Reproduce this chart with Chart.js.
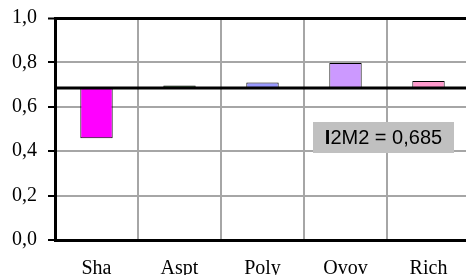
<!DOCTYPE html>
<html>
<head>
<meta charset="utf-8">
<script src="https://cdn.jsdelivr.net/npm/chart.js@4"></script>
<style>
html,body{margin:0;padding:0;background:#fff;overflow:hidden;}
#wrap{width:470px;height:275px;}
</style>
</head>
<body>
<div id="wrap"><canvas id="c" width="470" height="275"></canvas></div>
<script>
const categories = ['Sha', 'Aspt', 'Poly', 'Ovov', 'Rich'];
const baseline = 0.685;
const values = [0.458, 0.696, 0.710, 0.797, 0.716];
const barColors = ['#FF00FF', '#1F5F1F', '#9999FF', '#CC99FF', '#FF99CC'];
const yTicks = [0, 0.2, 0.4, 0.6, 0.8, 1.0];
const annotationText = 'I2M2 = 0,685';

const floating = values.map(v => [baseline, v]);

const baselinePlugin = {
  id: 'baselinePlugin',
  afterDatasetsDraw(chart) {
    const ctx = chart.ctx, a = chart.chartArea, y = chart.scales.y.getPixelForValue(baseline);
    ctx.save();
    ctx.strokeStyle = '#000';
    ctx.lineWidth = 3;
    ctx.beginPath();
    ctx.moveTo(a.left, y);
    ctx.lineTo(a.right, y);
    ctx.stroke();
    // annotation box
    const bx = a.left + 258, by = a.top + 104, bw = 141, bh = 31;
    ctx.fillStyle = '#C0C0C0';
    ctx.fillRect(bx, by, bw, bh);
    ctx.fillStyle = '#000';
    ctx.textBaseline = 'middle';
    ctx.textAlign = 'left';
    ctx.font = 'bold 20px "Liberation Sans", Arial, sans-serif';
    const first = annotationText.charAt(0);
    const rest = annotationText.slice(1);
    const w1 = ctx.measureText(first).width;
    ctx.font = '20px "Liberation Sans", Arial, sans-serif';
    const w2 = ctx.measureText(rest).width;
    const tx = bx + (bw - w1 - w2) / 2;
    ctx.font = 'bold 20px "Liberation Sans", Arial, sans-serif';
    ctx.fillText(first, tx, by + bh / 2 + 1);
    ctx.font = '20px "Liberation Sans", Arial, sans-serif';
    ctx.fillText(rest, tx + w1, by + bh / 2 + 1);
    ctx.restore();
  }
};

new Chart(document.getElementById('c'), {
  type: 'bar',
  data: {
    labels: categories,
    datasets: [{
      data: floating,
      backgroundColor: barColors,
      borderColor: '#000',
      borderWidth: 1,
      borderSkipped: false,
      barPercentage: 0.39,
      categoryPercentage: 1.0
    }]
  },
  options: {
    responsive: false,
    animation: false,
    devicePixelRatio: 1,
    layout: { padding: { top: 18, right: 0, left: 0, bottom: 0 } },
    plugins: { legend: { display: false }, tooltip: { enabled: false } },
    scales: {
      x: {
        afterFit(s) { s.height = 35; s.paddingLeft = 0; s.paddingRight = 0; },
        grid: { color: '#A6A6A6', lineWidth: 2, offset: true, drawTicks: false },
        border: { color: '#000', width: 3 },
        ticks: { color: '#000', padding: 17, font: { family: '"Liberation Serif", "Times New Roman", serif', size: 20 } }
      },
      y: {
        min: 0, max: 1,
        afterFit(s) { s.width = 55; s.paddingTop = 0; s.paddingBottom = 0; },
        afterBuildTicks(s) { s.ticks = yTicks.map(v => ({ value: v })); },
        grid: {
          color: c => (c.tick && c.tick.value === 1) ? '#000' : '#A6A6A6',
          lineWidth: c => (c.tick && c.tick.value === 1) ? 3 : 2,
          tickColor: '#000',
          tickWidth: 2,
          tickLength: 7
        },
        border: { color: '#000', width: 3 },
        ticks: {
          color: '#000',
          padding: 11,
          font: { family: '"Liberation Serif", "Times New Roman", serif', size: 20 },
          callback: v => v.toFixed(1).replace('.', ',')
        }
      }
    }
  },
  plugins: [baselinePlugin]
});
</script>
</body>
</html>
